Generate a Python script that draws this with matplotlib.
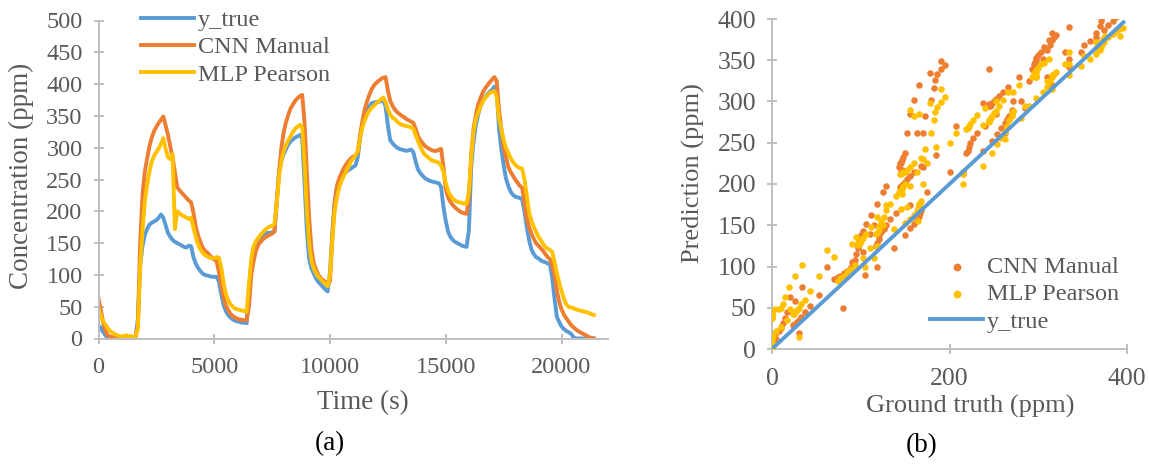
import numpy as np
import matplotlib
matplotlib.use("Agg")
import matplotlib.pyplot as plt

# ---------------- data ----------------
time_s = np.arange(0, 21401, 100)

y_true = [
    20, 17, 10, 5, 1, 0, 0, 0, 0, 0,
    0, 0, 0, 0, 0, 0, 0, 30, 115, 145,
    163, 172, 179, 182, 184, 186, 190, 195, 190, 178,
    166, 160, 155, 152, 150, 148, 146, 144, 143, 146,
    145, 128, 118, 111, 106, 102, 100, 99, 98, 97,
    97, 97, 90, 70, 53, 43, 37, 33, 30, 28,
    27, 26, 25, 25, 24, 80, 118, 138, 150, 156,
    160, 163, 165, 166, 166, 167, 168, 215, 262, 280,
    290, 298, 305, 310, 313, 316, 318, 320, 315, 245,
    170, 125, 110, 102, 94, 89, 85, 81, 77, 74,
    105, 165, 215, 238, 248, 254, 258, 262, 265, 267,
    270, 272, 285, 315, 335, 348, 358, 365, 370, 371,
    372, 372, 373, 375, 365, 335, 312, 307, 303, 300,
    298, 297, 296, 295, 296, 297, 293, 278, 266, 260,
    256, 252, 250, 248, 247, 246, 245, 244, 238, 207,
    185, 168, 160, 155, 152, 150, 148, 146, 145, 144,
    170, 270, 310, 335, 352, 365, 374, 379, 384, 388,
    391, 396, 392, 330, 298, 272, 252, 240, 231, 226,
    223, 222, 221, 219, 200, 175, 155, 140, 133, 128,
    126, 123, 121, 120, 118, 117, 95, 62, 34, 26,
    19, 15, 12, 10, 8, 3, 0, 0, 0, 0,
    0, 0, 0, 0, 0,
]

cnn_manual = [
    63, 45, 25, 12, 5, 3, 2, 2, 2, 2,
    2, 2, 2, 2, 2, 2, 3, 20, 150, 225,
    262, 283, 302, 316, 326, 333, 339, 344, 349, 335,
    320, 302, 285, 262, 238, 233, 229, 225, 221, 217,
    214, 198, 176, 162, 152, 143, 138, 135, 131, 127,
    124, 122, 105, 85, 65, 52, 45, 39, 35, 33,
    31, 30, 29, 29, 29, 50, 100, 122, 138, 147,
    152, 156, 159, 161, 163, 165, 168, 215, 262, 300,
    325, 340, 352, 362, 368, 374, 378, 381, 383, 340,
    262, 190, 140, 118, 108, 100, 95, 92, 89, 87,
    90, 160, 212, 240, 252, 260, 268, 274, 279, 283,
    286, 288, 292, 320, 342, 360, 373, 383, 392, 398,
    402, 405, 408, 410, 411, 390, 374, 366, 360, 356,
    353, 350, 348, 345, 343, 341, 339, 330, 318, 312,
    307, 303, 300, 298, 296, 295, 295, 297, 298, 270,
    235, 222, 215, 210, 206, 203, 200, 198, 197, 196,
    220, 290, 330, 352, 368, 378, 387, 393, 398, 403,
    407, 411, 405, 360, 330, 300, 285, 270, 262, 256,
    250, 245, 240, 237, 215, 190, 175, 165, 157, 150,
    146, 142, 138, 133, 128, 125, 115, 100, 75, 58,
    46, 38, 32, 27, 22, 18, 15, 12, 10, 8,
    6, 4, 2, 1, 0,
]

mlp_pearson = [
    48, 35, 27, 22, 16, 12, 9, 7, 5, 4,
    3, 4, 5, 3, 4, 3, 2, 15, 110, 170,
    215, 242, 262, 278, 287, 293, 299, 306, 315, 298,
    285, 282, 290, 172, 200, 197, 194, 192, 190, 188,
    190, 175, 160, 148, 140, 135, 131, 129, 127, 127,
    126, 128, 127, 112, 88, 70, 60, 54, 50, 47,
    46, 45, 44, 43, 42, 85, 125, 145, 153, 158,
    163, 167, 171, 174, 176, 177, 180, 212, 255, 280,
    295, 304, 312, 318, 325, 330, 333, 336, 332, 275,
    200, 150, 122, 110, 102, 97, 93, 89, 86, 82,
    100, 155, 200, 222, 238, 248, 256, 263, 270, 278,
    283, 288, 295, 315, 332, 343, 352, 358, 363, 366,
    370, 373, 376, 379, 372, 360, 352, 347, 345, 341,
    338, 336, 335, 334, 333, 332, 330, 320, 311, 302,
    294, 289, 286, 283, 280, 279, 278, 276, 272, 262,
    245, 232, 225, 220, 217, 215, 214, 213, 212, 212,
    230, 285, 325, 345, 355, 365, 372, 378, 382, 386,
    388, 389, 380, 345, 330, 312, 300, 292, 284, 278,
    273, 270, 268, 267, 250, 225, 198, 185, 176, 168,
    160, 155, 149, 144, 141, 139, 136, 120, 102, 88,
    75, 63, 54, 50, 49, 48, 46, 45, 44, 43,
    42, 41, 40, 38, 37,
]

a_yticks = [0, 50, 100, 150, 200, 250, 300, 350, 400, 450, 500]
a_xticks = [0, 5000, 10000, 15000, 20000]
b_yticks = [0, 50, 100, 150, 200, 250, 300, 350, 400]
b_xticks = [0, 200, 400]

# ---------------- style ----------------
BLUE = "#5B9BD5"
ORANGE = "#ED7D31"
YELLOW = "#FFC000"
TXT = "#595959"
AX = "#BFBFBF"
plt.rcParams["font.family"] = ["Liberation Serif", "DejaVu Serif"]

W, H = 1149, 466
fig = plt.figure(figsize=(W / 100, H / 100), dpi=100)


def frac_box(x0, x1, ytop, ybot):
    return [x0 / W, 1 - ybot / H, (x1 - x0) / W, (ybot - ytop) / H]


def style_axes(ax, size):
    for s in ("top", "right"):
        ax.spines[s].set_visible(False)
    for s in ("left", "bottom"):
        ax.spines[s].set_color(AX)
        ax.spines[s].set_linewidth(1.4)
    ax.tick_params(direction="inout", length=7, width=1.4, color=AX,
                   labelcolor=TXT, labelsize=size)
    ax.tick_params(axis="x", pad=10)
    ax.tick_params(axis="y", pad=8)


def fig_to_axes(ax, fx, fy):
    return ax.transAxes.inverted().transform(
        fig.transFigure.transform((fx / W, 1 - fy / H)))


# ---------------- panel (a) ----------------
ax1 = fig.add_axes(frac_box(98.5, 607.8, 20.5, 338.5))
ax1.plot(time_s, y_true, color=BLUE, lw=2.8, label="y_true")
ax1.plot(time_s, cnn_manual, color=ORANGE, lw=2.8, label="CNN Manual")
ax1.plot(time_s, mlp_pearson, color=YELLOW, lw=2.8, label="MLP Pearson")
ax1.set_xlim(0, 22000)
ax1.set_ylim(0, 500)
ax1.set_xticks(a_xticks)
ax1.set_yticks(a_yticks)
style_axes(ax1, 17.5)
ax1.set_xlabel("Time (s)", fontsize=19.5, color=TXT)
ax1.set_ylabel("Concentration (ppm)", fontsize=19.5, color=TXT)
ax1.xaxis.set_label_coords(*fig_to_axes(ax1, 363, 403))
ax1.xaxis.label.set_va("center")
ax1.yaxis.set_label_coords(*fig_to_axes(ax1, 21, 176))
ax1.yaxis.label.set_va("center")
ax1.legend(loc="upper left", bbox_to_anchor=(141 / W, 1 - 9 / H),
           bbox_transform=fig.transFigure, frameon=False, fontsize=17.5,
           handlelength=2.2, handletextpad=0.15, labelspacing=0.22,
           borderpad=0, borderaxespad=0, labelcolor=TXT)
fig.text(330 / W, 1 - 444 / H, "(a)", fontsize=19.5, color="black",
         ha="center", va="center")

# ---------------- panel (b) ----------------
ax2 = fig.add_axes(frac_box(772, 1127, 19, 349))
ax2.scatter(y_true, cnn_manual, s=22, color=ORANGE, lw=0, label="CNN Manual",
            zorder=2)
ax2.scatter(y_true, mlp_pearson, s=22, color=YELLOW, lw=0, label="MLP Pearson",
            zorder=3)
yt_sorted = np.sort(np.asarray(y_true))
ax2.plot(yt_sorted, yt_sorted, color=BLUE, lw=2.8, label="y_true", zorder=4)
ax2.set_xlim(0, 400)
ax2.set_ylim(0, 400)
ax2.set_xticks(b_xticks)
ax2.set_yticks(b_yticks)
style_axes(ax2, 18.5)
ax2.set_xlabel("Ground truth (ppm)", fontsize=19, color=TXT)
ax2.set_ylabel("Prediction (ppm)", fontsize=19, color=TXT)
ax2.xaxis.set_label_coords(*fig_to_axes(ax2, 970, 406))
ax2.xaxis.label.set_va("center")
ax2.yaxis.set_label_coords(*fig_to_axes(ax2, 693, 173))
ax2.yaxis.label.set_va("center")
ax2.legend(loc="upper left", bbox_to_anchor=(930 / W, 1 - 256 / H),
           bbox_transform=fig.transFigure, frameon=False, fontsize=17.5,
           handlelength=2.2, handletextpad=0.15, labelspacing=0.22,
           borderpad=0, borderaxespad=0, labelcolor=TXT, scatterpoints=1,
           markerscale=1.2)
fig.text(922 / W, 1 - 446 / H, "(b)", fontsize=19.5, color="black",
         ha="center", va="center")

fig.savefig("out.png", dpi=100)
